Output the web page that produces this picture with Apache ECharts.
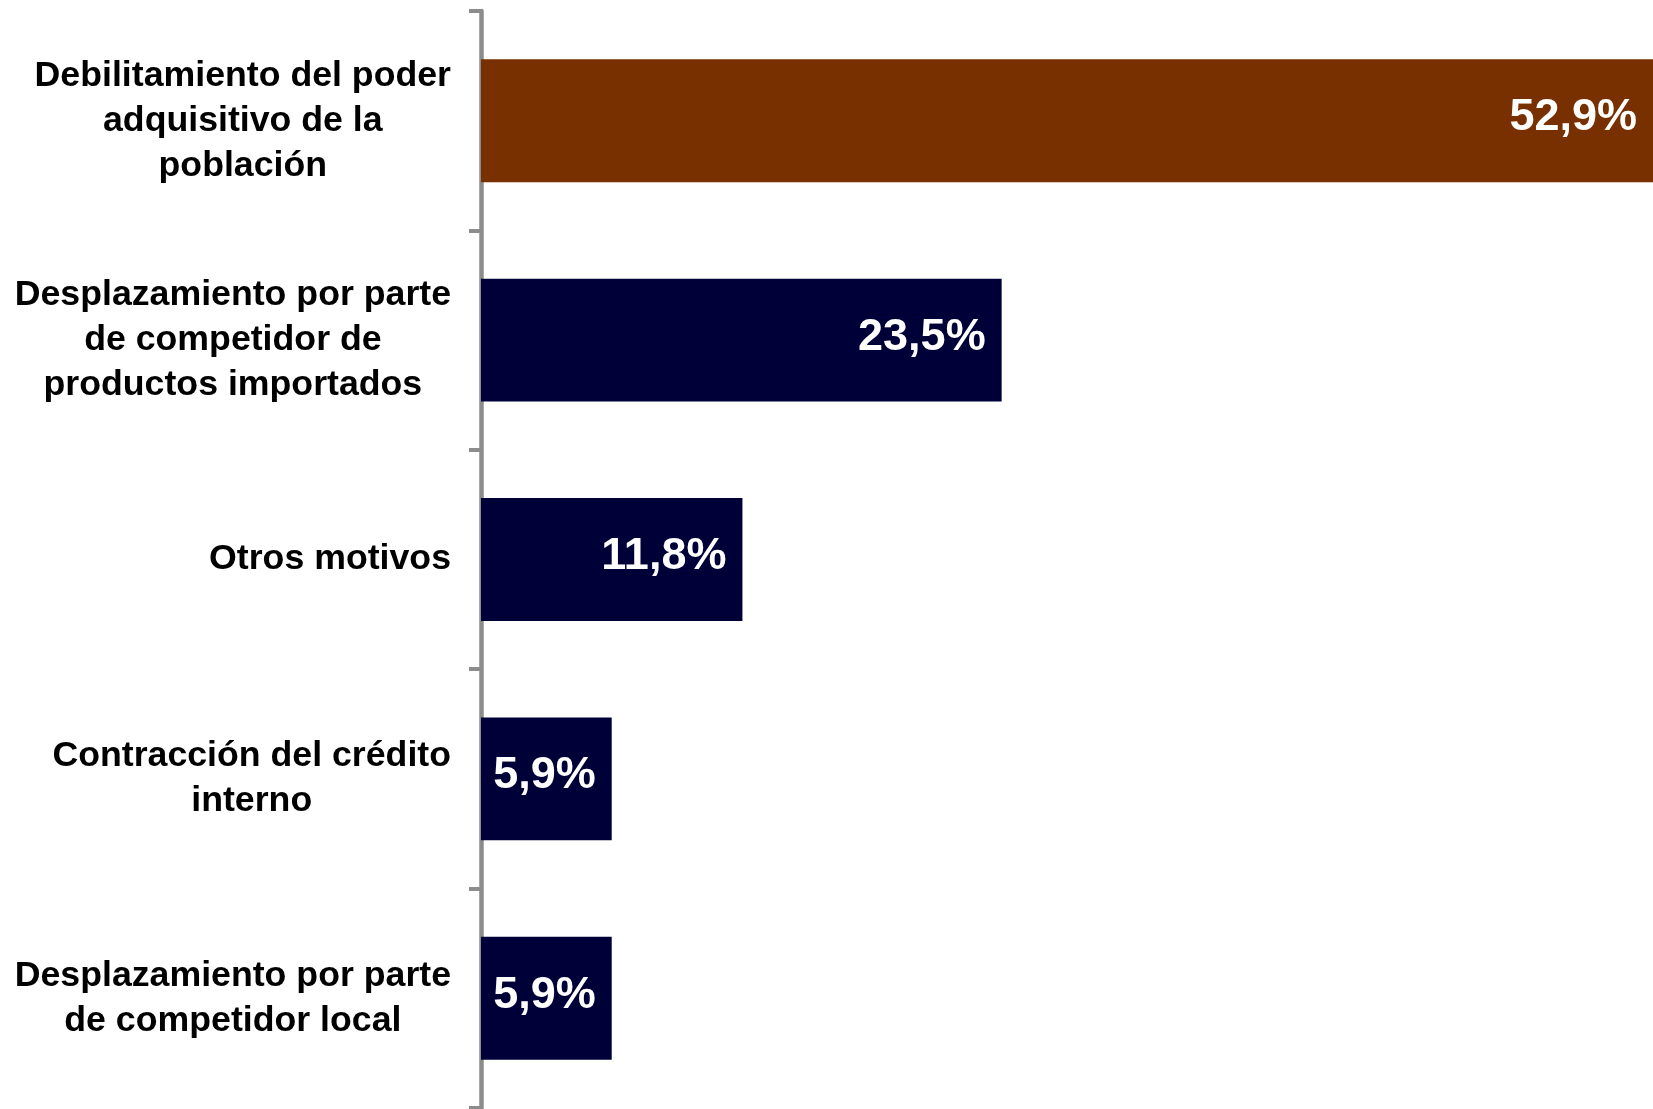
<!DOCTYPE html>
<html>
<head>
<meta charset="utf-8">
<script src="https://cdn.jsdelivr.net/npm/echarts@6/dist/echarts.min.js"></script>
<style>
html,body{margin:0;padding:0;background:#fff;}
#chart{width:1653px;height:1109px;}
</style>
</head>
<body>
<div id="chart"></div>
<script>
const categories = [
  "Debilitamiento del poder\nadquisitivo de la\npoblación",
  "Desplazamiento por parte\nde competidor de\nproductos importados",
  "Otros motivos",
  "Contracción del crédito\ninterno",
  "Desplazamiento por parte\nde competidor local"
];
const values = [52.9, 23.5, 11.8, 5.9, 5.9];
const barColors = ["#783000", "#000038", "#000038", "#000038", "#000038"];

const chart = echarts.init(document.getElementById('chart'));
const fontFamily = '"Liberation Sans", Arial, sans-serif';
chart.setOption({
  animation: false,
  backgroundColor: '#ffffff',
  grid: { left: 481, right: 0, top: 11, bottom: 1, containLabel: false },
  xAxis: { type: 'value', min: 0, max: 52.9, show: false },
  yAxis: {
    type: 'category',
    inverse: true,
    data: categories,
    axisLine: { show: true, lineStyle: { color: '#8c8c8c', width: 4.5 } },
    axisTick: { show: true, length: 12, lineStyle: { color: '#8c8c8c', width: 4 } },
    splitLine: { show: false },
    axisLabel: {
      margin: 30,
      align: 'right',
      formatter: function (v) {
        return v.split('\n').map(l => '{c|' + l + '}').join('\n');
      },
      rich: {
        c: {
          align: 'center',
          fontFamily: fontFamily,
          fontWeight: 'bold',
          fontSize: 35.7,
          lineHeight: 45,
          color: '#000000'
        }
      }
    }
  },
  series: [{
    type: 'bar',
    data: values.map((v, i) => ({ value: v, itemStyle: { color: barColors[i] } })),
    barWidth: '56%',
    label: {
      show: true,
      position: 'insideRight',
      distance: 16,
      offset: [0, -3],
      formatter: p => p.value.toFixed(1).replace('.', ',') + '%',
      color: '#ffffff',
      fontFamily: fontFamily,
      fontWeight: 'bold',
      fontSize: 45
    }
  }]
});
</script>
</body>
</html>
